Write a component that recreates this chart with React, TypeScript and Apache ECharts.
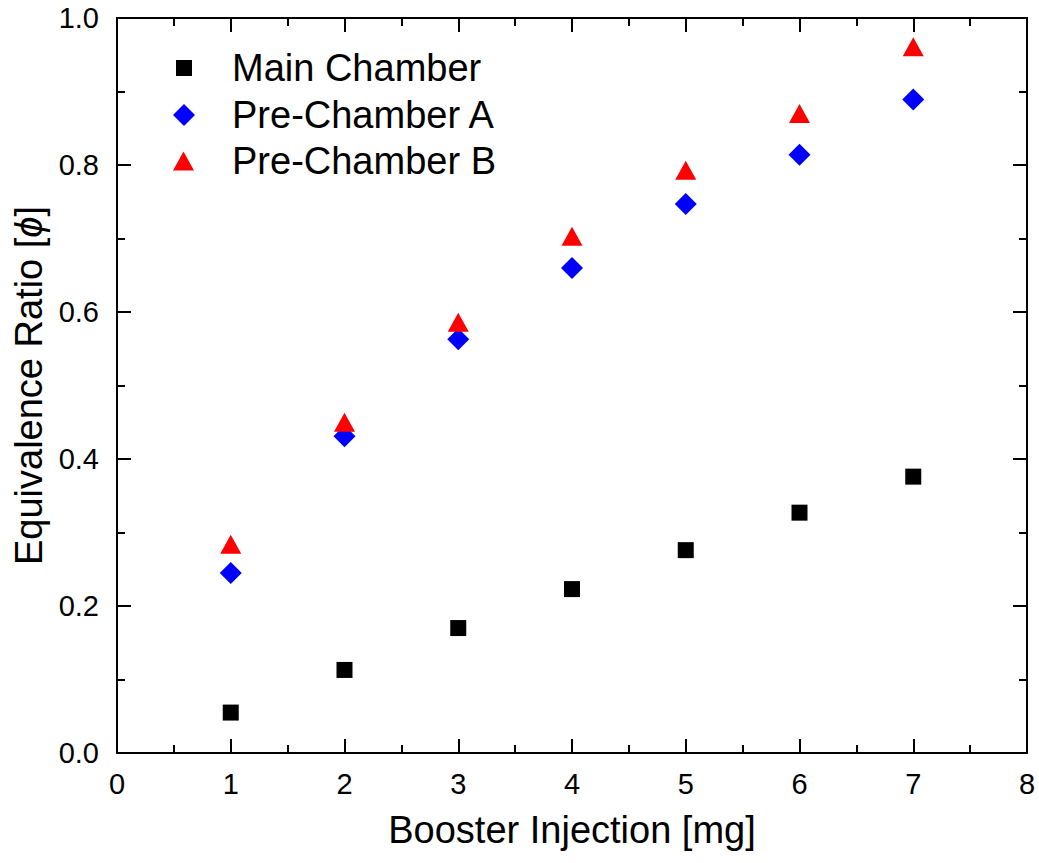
import React, { useEffect, useRef } from "react";
import * as echarts from "echarts";

const xValues = [1, 2, 3, 4, 5, 6, 7];
const mainChamber = [0.055, 0.113, 0.170, 0.223, 0.276, 0.327, 0.376];
const preChamberA = [0.245, 0.431, 0.563, 0.660, 0.747, 0.814, 0.889];
const preChamberB = [0.284, 0.450, 0.586, 0.703, 0.793, 0.870, 0.961];
const seriesNames = ["Main Chamber", "Pre-Chamber A", "Pre-Chamber B"];

const FONT = "'Liberation Sans', Arial, sans-serif";

export default function App() {
  const ref = useRef<HTMLDivElement>(null);
  useEffect(() => {
    if (!ref.current) return;
    const chart = echarts.init(ref.current, null, { renderer: "svg" });
    const axisLine = { show: true, onZero: false, lineStyle: { color: "#000", width: 2 } };
    const axisTick = { show: true, inside: true, length: 14, lineStyle: { color: "#000", width: 2 } };
    const minorTick = { show: true, splitNumber: 2, length: 8, lineStyle: { color: "#000", width: 2 } };
    const pair = (ys: number[]) => xValues.map((x, i) => [x, ys[i]]);
    const legendItem = (name: string, top: number, left: number, w: number, h: number, pad: number) => ({
      show: true,
      data: [name],
      orient: "vertical",
      left,
      top,
      itemWidth: w,
      itemHeight: h,
      selectedMode: false,
      textStyle: { fontSize: 38, fontFamily: FONT, color: "#000", lineHeight: 40, padding: [0, 0, 0, pad] },
    });
    chart.setOption({
      animation: false,
      backgroundColor: "#fff",
      textStyle: { fontFamily: FONT },
      grid: { left: 117, right: 12, top: 18, bottom: 110, containLabel: false },
      legend: [
        legendItem(seriesNames[0], 43, 171, 16, 16, 35),
        legendItem(seriesNames[1], 90, 168, 22, 22, 32),
        legendItem(seriesNames[2], 136, 168, 21, 19, 33),
      ],
      xAxis: [
        {
          type: "value",
          min: 0,
          max: 8,
          interval: 1,
          position: "bottom",
          name: "Booster Injection [mg]",
          nameLocation: "middle",
          nameGap: 58,
          nameTextStyle: { fontSize: 38, fontFamily: FONT, color: "#000" },
          axisLine,
          axisTick,
          minorTick,
          splitLine: { show: false },
          axisLabel: { fontSize: 29, fontFamily: FONT, color: "#000", margin: 16 },
        },
        {
          type: "value",
          min: 0,
          max: 8,
          interval: 1,
          position: "top",
          axisLine,
          axisTick,
          minorTick,
          splitLine: { show: false },
          axisLabel: { show: false },
        },
      ],
      yAxis: [
        {
          type: "value",
          min: 0,
          max: 1,
          interval: 0.2,
          position: "left",
          name: "Equivalence Ratio [{i|ϕ}]",
          nameLocation: "middle",
          nameGap: 68,
          nameTextStyle: {
            fontSize: 38,
            fontFamily: FONT,
            color: "#000",
            rich: { i: { fontStyle: "italic", fontSize: 38, fontFamily: FONT, color: "#000" } },
          },
          axisLine,
          axisTick,
          minorTick,
          splitLine: { show: false },
          axisLabel: {
            fontSize: 29,
            fontFamily: FONT,
            color: "#000",
            margin: 18,
            formatter: (v: number) => v.toFixed(1),
          },
        },
        {
          type: "value",
          min: 0,
          max: 1,
          interval: 0.2,
          position: "right",
          axisLine,
          axisTick,
          minorTick,
          splitLine: { show: false },
          axisLabel: { show: false },
        },
      ],
      series: [
        {
          name: seriesNames[0],
          type: "scatter",
          symbol: "rect",
          symbolSize: 16,
          itemStyle: { color: "#000000", opacity: 1 },
          data: pair(mainChamber),
        },
        {
          name: seriesNames[1],
          type: "scatter",
          symbol: "diamond",
          symbolSize: 22,
          itemStyle: { color: "#0000ff", opacity: 1 },
          data: pair(preChamberA),
        },
        {
          name: seriesNames[2],
          type: "scatter",
          symbol: "triangle",
          symbolSize: [21, 19],
          itemStyle: { color: "#ff0000", opacity: 1 },
          data: pair(preChamberB),
        },
      ],
    });
    return () => chart.dispose();
  }, []);
  return (
    <div
      ref={ref}
      style={{ position: "fixed", left: 0, top: 0, width: 1039, height: 863, background: "#fff" }}
    />
  );
}
